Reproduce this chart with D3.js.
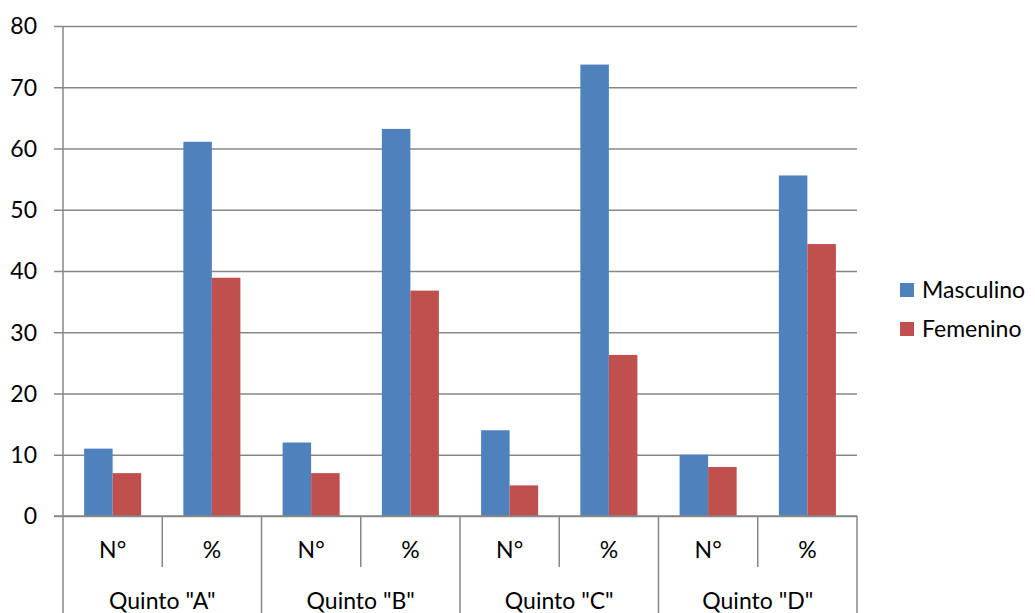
<!DOCTYPE html>
<html>
<head>
<meta charset="utf-8">
<script src="https://cdn.jsdelivr.net/npm/d3@7"></script>
<style>
  body { margin: 0; background: #fff; }
  svg { font-family: Lato, "Open Sans", sans-serif; }
</style>
</head>
<body>
<svg></svg>
<script>
let groups = ['Quinto "A"', 'Quinto "B"', 'Quinto "C"', 'Quinto "D"']
let subLabels = ['N°', '%']
let seriesNames = ['Masculino', 'Femenino']
let masculino = [11, 61.1, 12, 63.2, 14, 73.7, 10, 55.6]
let femenino = [7, 38.9, 7, 36.8, 5, 26.3, 8, 44.4]
let yTicks = [0, 10, 20, 30, 40, 50, 60, 70, 80]
let colors = ['#4F81BD', '#C0504D']

let width = 1035
let height = 613
let plotLeft = 63
let plotRight = 857
let plotTop = 26
let plotBottom = 516
let fontSize = 23

let svg = d3.select('svg').attr('width', width).attr('height', height)

let cats = []
groups.forEach((g, gi) => {
    subLabels.forEach((s, si) => {
        cats.push({ id: gi * 2 + si, group: g, sub: s })
    })
})

let xScale = d3.scaleBand()
    .domain(cats.map(c => c.id))
    .range([plotLeft, plotRight])
    .paddingInner(0)
    .paddingOuter(0)

let innerScale = d3.scaleBand()
    .domain(seriesNames)
    .range([0, xScale.bandwidth()])
    .paddingInner(0)
    .paddingOuter(0.74)

let yScale = d3.scaleLinear()
    .domain([0, 80])
    .range([plotBottom, plotTop])

// grid lines + y ticks
let yAxis = d3.axisLeft(yScale)
    .tickValues(yTicks)
    .tickSize(-(plotRight - plotLeft))
    .tickPadding(26)

let yg = svg.append('g')
    .attr('transform', 'translate(' + plotLeft + ',0)')
    .call(yAxis)
yg.select('.domain').remove()
yg.selectAll('.tick line')
    .attr('stroke', '#878787')
    .attr('stroke-width', 1.5)
    .attr('x1', -9)
yg.selectAll('.tick text')
    .attr('font-size', fontSize)
    .attr('font-family', 'Lato, sans-serif')
    .attr('fill', '#000')
    .attr('dy', '0.34em')

// bars
let rows = cats.map((c, i) => ({ id: c.id, vals: [masculino[i], femenino[i]] }))

let catG = svg.selectAll('.cat')
    .data(rows)
    .enter()
    .append('g')
    .attr('class', 'cat')
    .attr('transform', d => 'translate(' + xScale(d.id) + ',0)')

catG.selectAll('rect')
    .data(d => d.vals.map((v, i) => ({ name: seriesNames[i], value: v, i: i })))
    .enter()
    .append('rect')
    .attr('x', d => innerScale(d.name))
    .attr('width', innerScale.bandwidth())
    .attr('y', d => yScale(d.value))
    .attr('height', d => yScale(0) - yScale(d.value))
    .attr('fill', d => colors[d.i])

// y axis line
svg.append('line')
    .attr('x1', plotLeft).attr('x2', plotLeft)
    .attr('y1', plotTop).attr('y2', height)
    .attr('stroke', '#878787')
    .attr('stroke-width', 1.5)

// x axis line
svg.append('line')
    .attr('x1', plotLeft - 9).attr('x2', plotRight)
    .attr('y1', plotBottom).attr('y2', plotBottom)
    .attr('stroke', '#878787')
    .attr('stroke-width', 1.5)

// category separators
cats.forEach((c, i) => {
    if (i === 0) return
    let x = xScale(c.id)
    svg.append('line')
        .attr('x1', x).attr('x2', x)
        .attr('y1', plotBottom)
        .attr('y2', i % 2 === 0 ? height : 567)
        .attr('stroke', '#878787')
        .attr('stroke-width', 1.5)
})
svg.append('line')
    .attr('x1', plotRight).attr('x2', plotRight)
    .attr('y1', plotBottom).attr('y2', height)
    .attr('stroke', '#878787')
    .attr('stroke-width', 1.5)

// sub labels
svg.selectAll('.sub')
    .data(cats)
    .enter()
    .append('text')
    .attr('class', 'sub')
    .attr('x', d => xScale(d.id) + xScale.bandwidth() / 2)
    .attr('y', 558)
    .attr('text-anchor', 'middle')
    .attr('font-size', fontSize)
    .text(d => d.sub)

// group labels
svg.selectAll('.grp')
    .data(groups)
    .enter()
    .append('text')
    .attr('class', 'grp')
    .attr('x', (d, i) => xScale(i * 2) + xScale.bandwidth())
    .attr('y', 609)
    .attr('text-anchor', 'middle')
    .attr('font-size', fontSize)
    .text(d => d)

// legend
let legend = svg.selectAll('.leg')
    .data(seriesNames)
    .enter()
    .append('g')
    .attr('class', 'leg')
    .attr('transform', (d, i) => 'translate(900,' + (283 + i * 39) + ')')

legend.append('rect')
    .attr('width', 14)
    .attr('height', 14)
    .attr('fill', (d, i) => colors[i])

legend.append('text')
    .attr('x', 22)
    .attr('y', 7)
    .attr('dy', '0.35em')
    .attr('font-size', fontSize)
    .text(d => d)
</script>
</body>
</html>
